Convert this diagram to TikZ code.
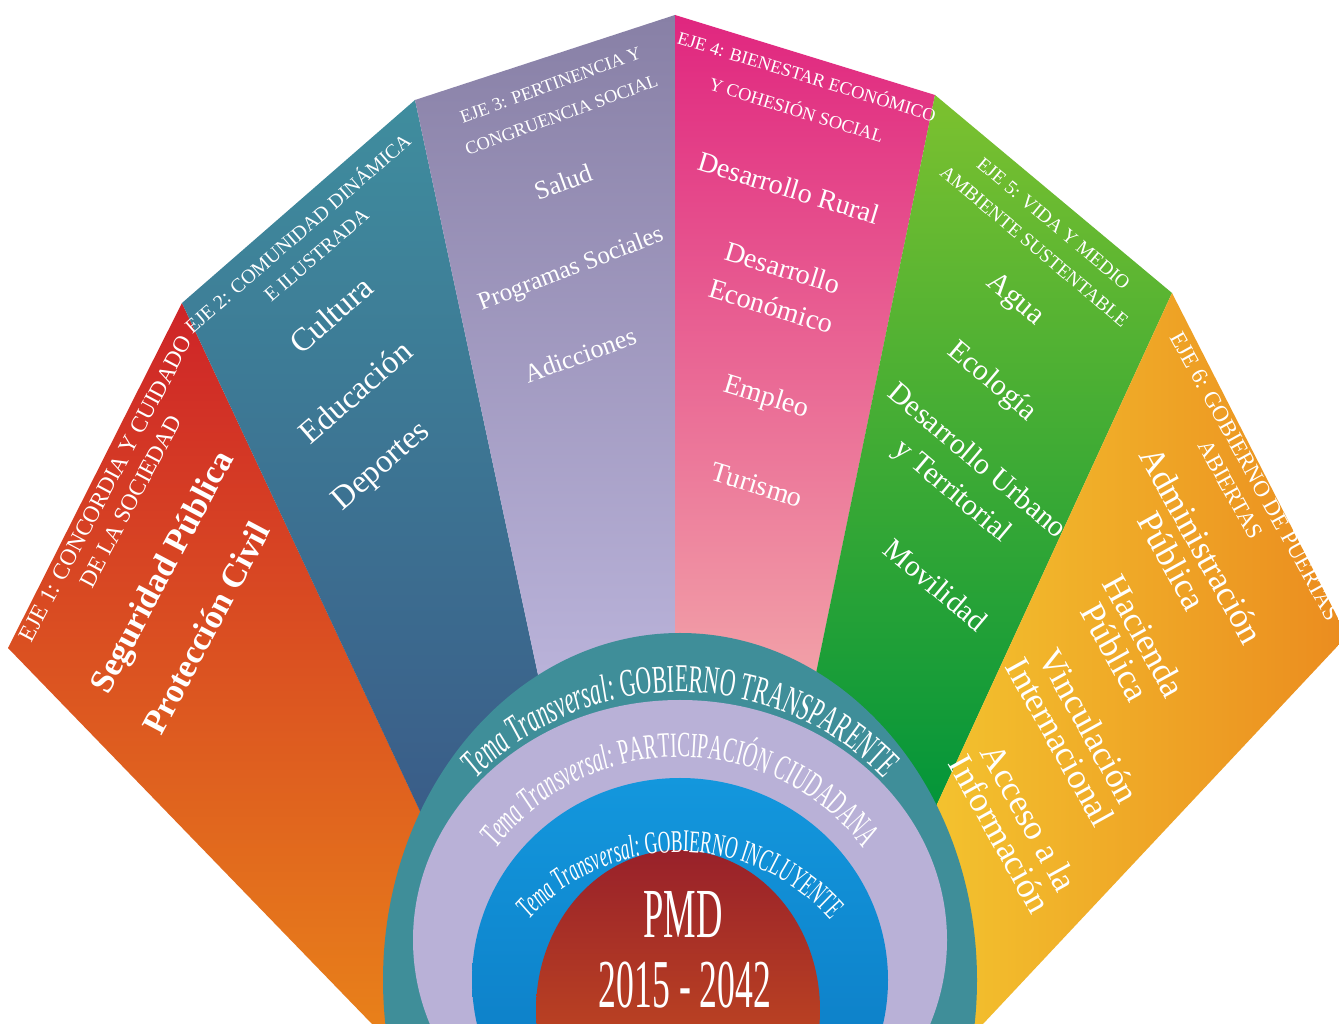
\documentclass[tikz,border=0pt]{standalone}
\usepackage{fontspec}
\setmainfont{Liberation Serif}
\newfontfamily\narrowserif[FakeStretch=0.55]{Liberation Serif}
\newfontfamily\narrowpmd[FakeStretch=0.52]{Liberation Serif}
\usepackage{tikz}
\usetikzlibrary{decorations.text}
\usepackage{xcolor}
\definecolor{ejered}{RGB}{206,36,40}
\definecolor{ejeorange}{RGB}{232,128,26}
\definecolor{ejeteal}{RGB}{63,141,158}
\definecolor{ejenavy}{RGB}{58,92,136}
\definecolor{ejeplum}{RGB}{136,128,166}
\definecolor{ejelilac}{RGB}{186,179,218}
\definecolor{ejemagenta}{RGB}{224,38,127}
\definecolor{ejepink}{RGB}{242,162,168}
\definecolor{ejelime}{RGB}{124,193,47}
\definecolor{ejegreen}{RGB}{0,148,58}
\definecolor{ejeyellow}{RGB}{245,207,50}
\definecolor{ejeamber}{RGB}{235,140,31}
\definecolor{ringteal}{RGB}{63,142,153}
\definecolor{ringlilac}{RGB}{185,177,215}
\definecolor{ringblue}{RGB}{19,151,221}
\definecolor{ringdeep}{RGB}{11,117,190}
\definecolor{pmdred}{RGB}{152,33,42}
\definecolor{pmdorange}{RGB}{212,90,28}
\tikzstyle{ejehead} = [text=white, align=center, inner sep=0pt]
\tikzstyle{ejeitem} = [text=white, align=center, inner sep=0pt]
\tikzstyle{ringtext} = [decorate, decoration={text along path, text color=white, text align=center}]

\begin{document}
\begin{tikzpicture}[x=0.01cm, y=0.01cm]
\useasboundingbox (0,0) rectangle (1339,1024);
\clip (0,0) rectangle (1339,1024);
\fill[white] (0,0) rectangle (1339,1024);

% Fan panels
\shade[top color=ejered, bottom color=ejeorange] (8,376) -- (182,721) -- (520,0) -- (372,0) -- cycle;
\shade[top color=ejeteal, bottom color=ejenavy] (182,721) -- (415,924) -- (570,200) -- (426,200) -- cycle;
\shade[top color=ejeplum, bottom color=ejelilac] (415,924) -- (675,1009) -- (675,340) -- (540,340) -- cycle;
\shade[top color=ejemagenta, bottom color=ejepink] (675,1009) -- (935,929) -- (814,340) -- (675,340) -- cycle;
\shade[top color=ejelime, bottom color=ejegreen] (935,929) -- (1172,731) -- (928,200) -- (785,200) -- cycle;
\shade[left color=ejeyellow, right color=ejeamber] (1172,731) -- (1347,388) -- (983,0) -- (836,0) -- cycle;

% Rings
\fill[ringteal] (680,44) ellipse [x radius=297, y radius=347];
\fill[ringlilac] (680,84) ellipse [x radius=267, y radius=240];
\shade[top color=ringblue, bottom color=ringdeep] (680,44) ellipse [x radius=208, y radius=202];
\shade[top color=pmdred, bottom color=pmdorange] (678,14) ellipse [x radius=142, y radius=160];

% Ring texts
\path[ringtext, decoration={text={|\fontsize{11.2}{12}\narrowserif\itshape|Tema Transversal: |\fontsize{11.2}{12}\narrowserif\upshape|GOBIERNO TRANSPARENTE}}]
  (680,49) ++(175:283) arc[start angle=175, end angle=5, radius=283];
\path[ringtext, decoration={text={|\fontsize{10.1}{11}\narrowserif\itshape|Tema Transversal: |\fontsize{10.1}{11}\narrowserif\upshape|PARTICIPACIÓN CIUDADANA}}]
  (680,37) ++(175:230) arc[start angle=175, end angle=5, radius=230];
\path[ringtext, decoration={text={|\fontsize{9}{10}\narrowserif\itshape|Tema Transversal: |\fontsize{9}{10}\narrowserif\upshape|GOBIERNO INCLUYENTE}}]
  (680,-29) ++(175:201) arc[start angle=175, end angle=5, radius=201];

% Centre
\node[ejeitem, font=\fontsize{20}{22}\narrowpmd] (pmd) at (683,109) {PMD};
\node[ejeitem, font=\fontsize{19.5}{22}\narrowpmd] (years) at (685,39) {2015 - 2042};

% Eje 1
\node[ejehead, rotate=62, font=\fontsize{6.6}{8}\selectfont] (eje1) at (118,529) {EJE 1: CONCORDIA Y CUIDADO\\DE LA SOCIEDAD};
\node[ejeitem, rotate=62, font=\fontsize{9.7}{11}\selectfont\bfseries] (seguridad) at (164,451) {Seguridad Pública};
\node[ejeitem, rotate=62, font=\fontsize{9.7}{11}\selectfont\bfseries] (proteccion) at (206,396) {Protección Civil};

% Eje 2
\node[ejehead, rotate=41, font=\fontsize{5.7}{8}\selectfont] (eje2) at (306,781) {EJE 2: COMUNIDAD DINÁMICA\\E ILUSTRADA};
\node[ejeitem, rotate=41, font=\fontsize{9.3}{11}\selectfont] (cultura) at (331,709) {Cultura};
\node[ejeitem, rotate=41, font=\fontsize{9.3}{11}\selectfont] (educacion) at (355,632) {Educación};
\node[ejeitem, rotate=41, font=\fontsize{9.3}{11}\selectfont] (deportes) at (382,557) {Deportes};

% Eje 3
\node[ejehead, rotate=20, font=\fontsize{5.2}{9}\selectfont] (eje3) at (556,924) {EJE 3: PERTINENCIA Y\\CONGRUENCIA SOCIAL};
\node[ejeitem, rotate=20, font=\fontsize{7.4}{9}\selectfont] (salud) at (563,842) {Salud};
\node[ejeitem, rotate=21, font=\fontsize{7.1}{9}\selectfont] (programas) at (571,754) {Programas Sociales};
\node[ejeitem, rotate=20, font=\fontsize{7.4}{9}\selectfont] (adicciones) at (580,669) {Adicciones};

% Eje 4
\node[ejehead, rotate=-17, font=\fontsize{5.2}{10}\selectfont] (eje4) at (802,932) {EJE 4: BIENESTAR ECONÓMICO\\Y COHESIÓN SOCIAL};
\node[ejeitem, rotate=-17, font=\fontsize{8}{11.4}\selectfont] (rural) at (789,836) {Desarrollo Rural};
\node[ejeitem, rotate=-17, font=\fontsize{8}{11.4}\selectfont] (economico) at (777,737) {Desarrollo\\Económico};
\node[ejeitem, rotate=-17, font=\fontsize{8}{11.4}\selectfont] (empleo) at (766,626) {Empleo};
\node[ejeitem, rotate=-17, font=\fontsize{8}{11.4}\selectfont] (turismo) at (757,539) {Turismo};

% Eje 5
\node[ejehead, rotate=-40, font=\fontsize{5.5}{8.5}\selectfont] (eje5) at (1044,789) {EJE 5: VIDA Y MEDIO\\AMBIENTE SUSTENTABLE};
\node[ejeitem, rotate=-40, font=\fontsize{8.5}{11}\selectfont] (agua) at (1015,724) {Agua};
\node[ejeitem, rotate=-40, font=\fontsize{8.5}{11}\selectfont] (ecologia) at (992,642) {Ecología};
\node[ejeitem, rotate=-40, font=\fontsize{8.5}{11}\selectfont] (urbano) at (964,547) {Desarrollo Urbano\\y Territorial};
\node[ejeitem, rotate=-40, font=\fontsize{8.5}{11}\selectfont] (movilidad) at (936,439) {Movilidad};

% Eje 6
\node[ejehead, rotate=-61, font=\fontsize{6.5}{8}\selectfont] (eje6) at (1243,541) {EJE 6: GOBIERNO DE PUERTAS\\ABIERTAS};
\node[ejeitem, rotate=-61, font=\fontsize{10}{9.5}\selectfont] (administracion) at (1187,471) {Administración\\Pública};
\node[ejeitem, rotate=-61, font=\fontsize{10}{9.5}\selectfont] (hacienda) at (1130,380) {Hacienda\\Pública};
\node[ejeitem, rotate=-61, font=\fontsize{10}{9.5}\selectfont] (vinculacion) at (1075,290) {Vinculación\\Internacional};
\node[ejeitem, rotate=-61, font=\fontsize{10}{9.5}\selectfont] (acceso) at (1015,198) {Acceso a la\\Información};
\end{tikzpicture}
\end{document}
